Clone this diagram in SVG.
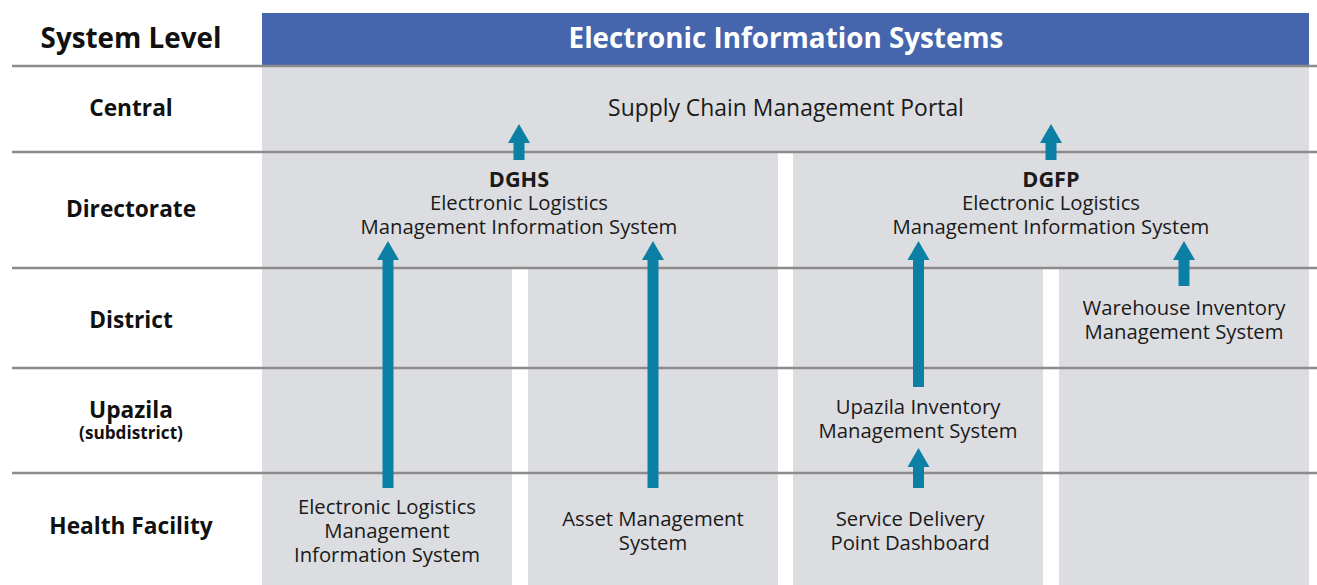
<svg xmlns="http://www.w3.org/2000/svg" width="1317" height="585" viewBox="0 0 1317 585">
  <style>
    .cell { fill: #dcdde0; }
    .rule { stroke: #8c8c8c; stroke-width: 2.5; }
    .lvl { font-family: "Open Sans", "Noto Sans", sans-serif; font-weight: bold; font-size: 22.7px; fill: #111; text-anchor: middle; }
    .sub { font-size: 17.2px; }
    .sys { font-family: "Open Sans", "Noto Sans", sans-serif; font-size: 20.3px; fill: #1a1a1a; text-anchor: middle; }
    .org { font-weight: bold; font-size: 21.7px; }
    .portal { font-size: 22.9px; }
    .head { font-family: "Open Sans", "Noto Sans", sans-serif; font-weight: bold; font-size: 27.8px; text-anchor: middle; }
    .arrow { fill: #0b80a4; }
  </style>

  <rect width="1317" height="585" fill="#ffffff"/>

  <!-- header -->
  <g id="header">
    <rect x="262" y="13" width="1047" height="53" fill="#4565ad"/>
    <text class="head" x="786" y="48" fill="#ffffff">Electronic Information Systems</text>
    <text class="head" x="131" y="48" fill="#111111">System Level</text>
  </g>

  <!-- grey cells -->
  <g id="cells">
    <rect class="cell" x="262" y="66" width="1047" height="86"/>
    <rect class="cell" x="262" y="152" width="516" height="116"/>
    <rect class="cell" x="793" y="152" width="516" height="116"/>
    <rect class="cell" x="262" y="268" width="250" height="317"/>
    <rect class="cell" x="528" y="268" width="250" height="317"/>
    <rect class="cell" x="793" y="268" width="250" height="317"/>
    <rect class="cell" x="1059" y="268" width="250" height="317"/>
  </g>

  <!-- row dividers -->
  <g id="rules">
    <line class="rule" x1="12" y1="66" x2="1317" y2="66"/>
    <line class="rule" x1="12" y1="152" x2="1317" y2="152"/>
    <line class="rule" x1="12" y1="268" x2="1317" y2="268"/>
    <line class="rule" x1="12" y1="368" x2="1317" y2="368"/>
    <line class="rule" x1="12" y1="473" x2="1317" y2="473"/>
  </g>

  <!-- level labels -->
  <g id="levels">
    <text class="lvl" x="131" y="116">Central</text>
    <text class="lvl" x="131" y="217">Directorate</text>
    <text class="lvl" x="131" y="328">District</text>
    <text class="lvl" x="131" y="418">Upazila</text>
    <text class="lvl sub" x="131" y="439">(subdistrict)</text>
    <text class="lvl" x="131" y="534">Health Facility</text>
  </g>

  <g id="scm-portal">
    <text class="sys portal" x="786" y="116">Supply Chain Management Portal</text>
  </g>

  <g id="dghs-elmis">
    <text class="sys org" x="519" y="187">DGHS</text>
    <text class="sys" x="519" y="210">Electronic Logistics</text>
    <text class="sys" x="519" y="234">Management Information System</text>
  </g>

  <g id="dgfp-elmis">
    <text class="sys org" x="1051" y="187">DGFP</text>
    <text class="sys" x="1051" y="210">Electronic Logistics</text>
    <text class="sys" x="1051" y="234">Management Information System</text>
  </g>

  <g id="wims">
    <text class="sys" x="1184" y="315">Warehouse Inventory</text>
    <text class="sys" x="1184" y="339">Management System</text>
  </g>

  <g id="uims">
    <text class="sys" x="918" y="414">Upazila Inventory</text>
    <text class="sys" x="918" y="438">Management System</text>
  </g>

  <g id="facility-elmis">
    <text class="sys" x="387" y="514">Electronic Logistics</text>
    <text class="sys" x="387" y="538">Management</text>
    <text class="sys" x="387" y="562">Information System</text>
  </g>

  <g id="asset-mgmt">
    <text class="sys" x="653" y="526">Asset Management</text>
    <text class="sys" x="653" y="550">System</text>
  </g>

  <g id="sdp-dashboard">
    <text class="sys" x="910" y="526">Service Delivery</text>
    <text class="sys" x="910" y="550">Point Dashboard</text>
  </g>

  <!-- upward data-flow arrows -->
  <g id="connectors">
    <path class="arrow" d="M513.5,160 V143 H508 L519,124 L530,143 H524.5 V160 Z"/>
    <path class="arrow" d="M1045.5,160 V143 H1040 L1051,124 L1062,143 H1056.5 V160 Z"/>
    <path class="arrow" d="M382.5,488 V260 H377 L388,241 L399,260 H393.5 V488 Z"/>
    <path class="arrow" d="M647.5,488 V260 H642 L653,241 L664,260 H658.5 V488 Z"/>
    <path class="arrow" d="M913,387 V260 H907.5 L918.5,241 L929.5,260 H924 V387 Z"/>
    <path class="arrow" d="M1178.5,286 V260 H1173 L1184,241 L1195,260 H1189.5 V286 Z"/>
    <path class="arrow" d="M913,488 V467 H907.5 L918.5,448 L929.5,467 H924 V488 Z"/>
  </g>
</svg>
